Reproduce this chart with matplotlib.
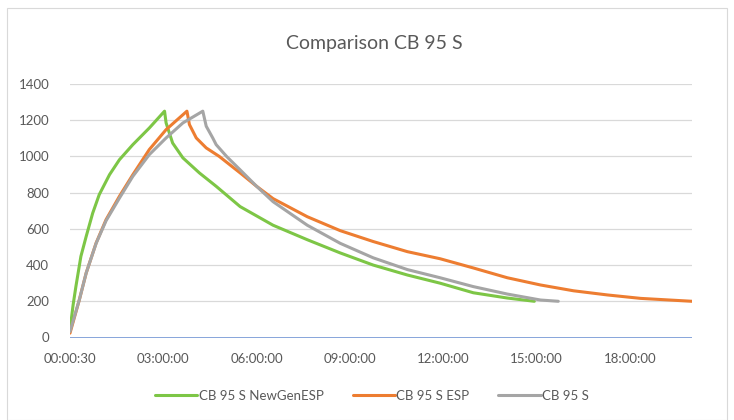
import matplotlib
matplotlib.use('Agg')
import matplotlib.pyplot as plt
from matplotlib.patches import Rectangle

# elapsed time in hours
green_h = [0, 0.1, 0.19, 0.35, 0.52, 0.73, 0.94, 1.27, 1.59, 2.02, 2.55, 3.04,
           3.09, 3.3, 3.63, 4.16, 4.7, 5.47, 6.53, 7.63, 8.69, 9.75, 10.85,
           11.9, 12.97, 14.06, 14.93]
green_v = [42, 180, 282, 448, 558, 687, 789, 899, 982, 1065, 1157, 1250,
           1185, 1074, 992, 909, 835, 723, 620, 540, 467, 400, 345,
           300, 247, 218, 200]

orange_h = [0, 0.3, 0.52, 0.84, 1.16, 1.59, 2.02, 2.55, 3.09, 3.76,
            3.84, 4.06, 4.38, 4.8, 5.5, 6.0, 6.53, 7.63, 8.69, 9.75, 10.85,
            11.9, 12.97, 14.06, 15.13, 16.19, 17.28, 18.35, 20.0]
orange_v = [24, 208, 356, 522, 651, 780, 899, 1038, 1148, 1250,
            1176, 1102, 1047, 1000, 905, 835, 767, 667, 590, 530, 474,
            435, 384, 330, 290, 258, 235, 216, 200]

gray_h = [0, 0.3, 0.52, 0.84, 1.16, 1.59, 2.02, 2.55, 3.09, 3.63, 4.27,
          4.38, 4.59, 4.7, 5.04, 5.47, 6.0, 6.53, 7.63, 8.69, 9.75, 10.85,
          11.9, 12.97, 14.06, 15.13, 15.7]
gray_v = [33, 208, 356, 520, 645, 770, 890, 1010, 1102, 1185, 1250,
          1167, 1102, 1065, 999, 926, 835, 750, 620, 520, 440, 375,
          330, 281, 240, 207, 200]

series_names = ['CB 95 S NewGenESP', 'CB 95 S ESP', 'CB 95 S']
x_ticks = [0, 3, 6, 9, 12, 15, 18]
x_labels = ['00:00:30', '03:00:00', '06:00:00', '09:00:00',
            '12:00:00', '15:00:00', '18:00:00']
y_ticks = [0, 200, 400, 600, 800, 1000, 1200, 1400]

COLORS = ['#7DC646', '#ED7D31', '#A5A5A5']
TXT = '#595959'

plt.rcParams['font.family'] = ['Lato', 'DejaVu Sans']

fig = plt.figure(figsize=(7.34, 4.2), dpi=100)
fig.patches.append(Rectangle((7 / 734, 0.0), 720 / 734, 1 - 8 / 420,
                             transform=fig.transFigure, fill=False,
                             edgecolor='#D9D9D9', linewidth=0.8))
ax = fig.add_axes([70 / 734, 1 - 337.5 / 420, 622 / 734, 253.5 / 420])

for h, v, name, c in zip([green_h, orange_h, gray_h],
                         [green_v, orange_v, gray_v], series_names, COLORS):
    ax.plot(h, v, color=c, linewidth=2.2, label=name,
            solid_joinstyle='round', solid_capstyle='round')

ax.axhline(0, color='#7F9FD8', linewidth=1.3, zorder=1)

ax.set_xlim(0, 20)
ax.set_ylim(0, 1400)
ax.set_xticks(x_ticks)
ax.set_xticklabels(x_labels)
ax.set_yticks(y_ticks)
ax.grid(axis='y', color='#D9D9D9', linewidth=0.9)
ax.set_axisbelow(True)
for s in ax.spines.values():
    s.set_visible(False)
ax.tick_params(length=0, colors=TXT, labelsize=9.5)
ax.tick_params(axis='x', pad=11)
ax.tick_params(axis='y', pad=15)

fig.text(374 / 734, 1 - 43 / 420, 'Comparison CB 95 S', ha='center',
         va='center', fontsize=14, color=TXT)

fig.legend(loc='center', bbox_to_anchor=(372 / 734, 1 - 396 / 420),
           ncol=3, frameon=False, fontsize=9.5, labelcolor=TXT,
           handlelength=3.2, handletextpad=0.1, columnspacing=2.2)

fig.savefig('out.png', dpi=100)
